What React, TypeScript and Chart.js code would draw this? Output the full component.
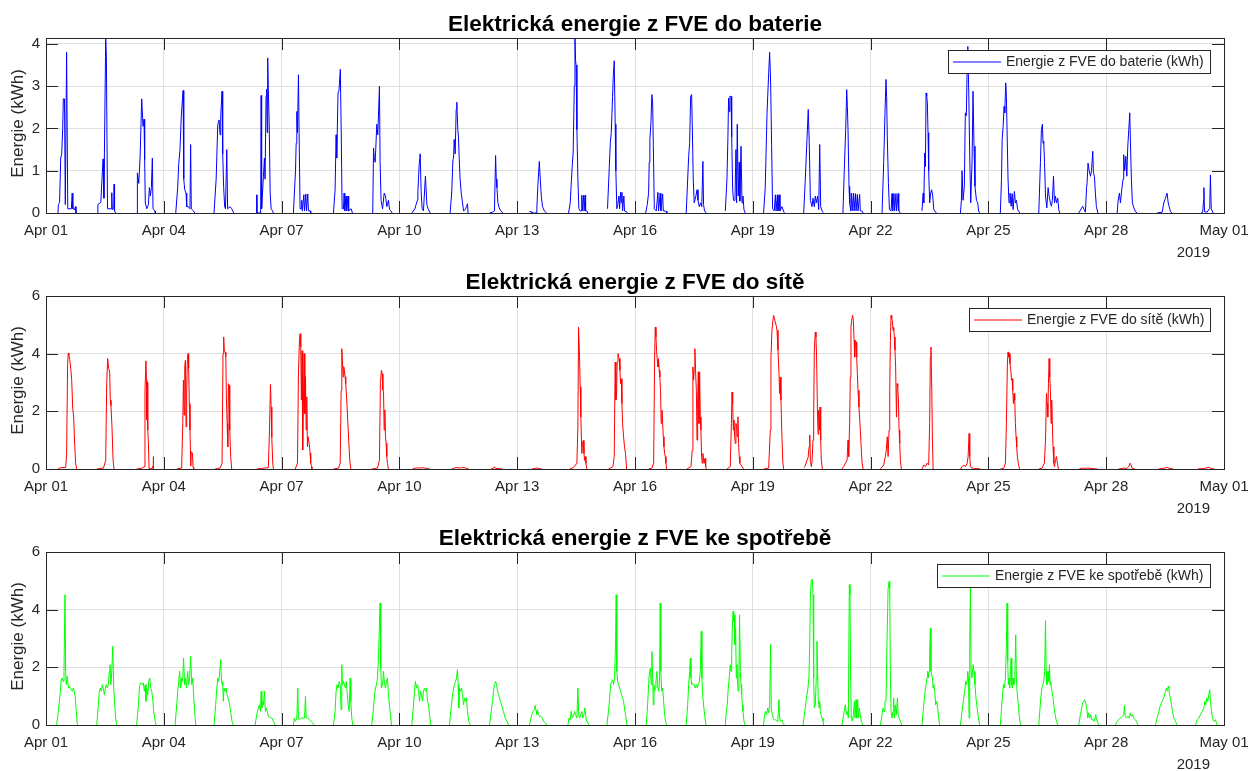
import React, { useEffect, useRef } from 'react';
import { Chart, registerables } from 'chart.js';

Chart.register(...registerables);

const FONT = "'Liberation Sans', Arial, Helvetica, sans-serif";

// x axis: days since Apr 01 2019
const tickDays = [0, 3, 6, 9, 12, 15, 18, 21, 24, 27, 30];
const dateLabels = ['Apr 01', 'Apr 04', 'Apr 07', 'Apr 10', 'Apr 13', 'Apr 16', 'Apr 19', 'Apr 22', 'Apr 25', 'Apr 28', 'May 01'];
const yearLabel = '2019';
const yAxisTitle = 'Energie (kWh)';

const batteryTicks = [0, 1, 2, 3, 4];
const sixTicks = [0, 2, 4, 6];

// Each row = one day (Apr 01 .. Apr 30), flat pairs [hour, kWh, hour, kWh, ...]
const batteryDays: number[][] = [
  [7.3,0, 7.6,0.2, 8.3,0.25, 9.0,1.3, 9.6,1.4, 10.2,2.0, 10.6,2.7, 11.3,2.7, 11.8,0.2, 12.6,3.8, 13.3,0.1, 15.5,0.1, 16.0,0.47, 16.4,0.1, 17.5,0.08, 18.0,0.15, 18.3,0],
  [7.5,0, 7.7,0.2, 9.5,0.25, 10.4,0.95, 10.9,1.28, 11.4,0.35, 12.5,4.14, 12.9,3.7, 13.6,0.1, 15.9,0.1, 16.2,0.48, 16.5,0.08, 17.4,0.1, 17.6,0.68, 17.9,0.05, 18.6,0],
  [7.8,0, 7.85,0.95, 8.7,0.7, 9.5,1.3, 10.5,2.7, 11.3,2.05, 11.9,2.22, 12.3,1.26, 12.7,0.24, 13.6,0.1, 14.6,0.2, 15.2,0.6, 15.8,0.4, 16.4,0.6, 17.0,1.3, 17.4,0.1, 18.7,0.05, 18.8,0],
  [7.3,0, 8.5,0.6, 9.1,1.15, 9.9,1.5, 10.7,2.3, 11.8,2.9, 12.2,0.8, 12.8,0.55, 13.6,0.47, 14.0,0.15, 15.0,0.15, 16.0,0.1, 16.4,1.62, 16.8,0.1, 18.1,0.05, 19.0,0],
  [6.7,0, 8.0,0.8, 9.0,2.1, 9.8,2.2, 10.4,1.85, 10.8,2.3, 11.6,2.88, 12.0,1.4, 12.6,0.6, 13.2,0.15, 13.7,0.1, 14.5,1.5, 15.0,0.1, 16.5,0.15, 17.5,0.1, 18.1,0.05, 18.8,0],
  [8.8,0.43, 8.9,0, 11.2,0, 11.5,2.78, 11.8,0.1, 12.9,0.87, 13.5,1.3, 13.9,0.8, 14.5,2.76, 14.9,2.93, 15.2,1.9, 15.5,3.67, 15.9,2.9, 16.4,2.17, 17.0,0.5, 17.6,0.1, 18.5,0.05, 19.0,0],
  [7.2,0, 8.5,1.0, 8.9,1.65, 9.3,2.4, 9.7,1.9, 10.3,3.27, 10.7,1.9, 11.3,0.1, 12.0,0.1, 12.3,0.3, 12.7,0.05, 13.6,0.43, 14.0,0.05, 14.8,0.45, 15.2,0.05, 16.0,0.45, 16.4,0.05, 17.5,0.05, 17.8,0],
  [7.7,0, 8.7,0.55, 9.3,1.85, 9.7,1.3, 10.5,2.84, 11.1,2.9, 11.9,3.4, 12.4,2.05, 13.0,0.1, 13.8,0.1, 14.2,0.47, 14.6,0.05, 15.4,0.4, 15.8,0.05, 16.6,0.4, 17.0,0.05, 18.5,0.1, 19.3,0],
  [7.7,0, 8.2,1.54, 8.6,1.3, 9.2,1.2, 10.2,2.1, 10.8,1.85, 11.8,3.0, 12.2,1.2, 12.8,0.3, 13.7,0.1, 14.7,0.47, 15.5,0.4, 16.3,0.15, 17.3,0.3, 18.0,0.08, 18.8,0.05, 19.5,0],
  [7.6,0, 9.5,0.1, 10.2,0.2, 11.0,0.3, 11.3,0.5, 12.1,1.15, 12.7,1.4, 13.3,0.5, 13.9,0.1, 14.7,0.05, 15.9,0.87, 16.8,0.2, 17.5,0.1, 18.8,0],
  [7.0,0, 8.0,0.5, 8.7,1.26, 9.1,1.3, 9.5,1.74, 10.1,1.4, 10.7,2.45, 11.1,2.62, 11.7,1.97, 12.1,1.8, 12.5,1.35, 13.1,0.8, 13.8,0.47, 14.6,0.24, 15.2,0.05, 16.2,0.08, 17.0,0.15, 17.6,0.22, 18.0,0],
  [7.1,0, 9.0,0.02, 10.1,0.05, 10.8,1.36, 11.2,0.8, 11.6,0.6, 12.2,0.25, 13.0,0.12, 14.0,0.05, 15.2,0],
  [7.5,0.03, 8.5,0.03, 9.0,0, 11.5,0, 12.0,0.1, 12.6,0.63, 13.5,1.22, 14.1,0.8, 14.7,0.4, 15.5,0.15, 16.7,0.04, 18.0,0],
  [7.4,0, 8.4,0.24, 9.6,1.1, 10.2,1.42, 10.9,3.0, 11.3,4.14, 11.7,3.6, 12.0,3.5, 12.5,1.97, 13.1,0.8, 13.7,0.1, 14.5,0.05, 15.2,0.05, 15.5,0.42, 15.8,0.05, 16.6,0.42, 16.9,0.05, 17.5,0.42, 17.8,0.05, 18.5,0.05, 19.2,0],
  [7.2,0.1, 8.3,1.1, 8.9,1.65, 9.5,1.9, 10.3,2.76, 10.7,3.23, 11.3,3.6, 11.9,2.1, 12.3,1.0, 12.9,0.1, 13.5,0.2, 14.2,0.4, 14.6,0.1, 15.2,0.49, 15.6,0.25, 16.0,0.49, 16.4,0.05, 17.2,0.4, 17.6,0.05, 19.0,0.02, 19.5,0],
  [6.5,0, 7.5,0.2, 8.3,0.47, 8.7,1.2, 9.1,1.74, 9.7,2.1, 10.3,2.8, 10.8,2.6, 11.2,1.6, 11.8,0.1, 13.0,0.05, 14.0,0.49, 14.4,0.05, 15.4,0.47, 15.8,0.05, 16.9,0.45, 17.3,0.05, 19.0,0.04, 19.5,0],
  [7.3,0, 8.2,0.8, 8.8,1.34, 9.4,1.65, 10.0,2.76, 10.6,2.8, 11.0,2.1, 11.6,0.8, 12.2,0.24, 13.2,0.4, 13.9,0.55, 14.5,0.3, 15.3,0.15, 16.1,0.24, 16.8,0.15, 17.5,1.22, 17.9,0.2, 18.5,0.05, 19.5,0],
  [7.2,0.05, 8.2,0.8, 8.8,1.8, 9.2,2.72, 9.6,2.4, 10.0,2.76, 10.7,2.76, 11.1,1.8, 11.7,0.55, 12.2,0.3, 13.1,0.3, 13.7,1.5, 14.1,0.24, 14.5,2.1, 15.1,0.4, 15.7,1.2, 16.1,0.28, 16.8,1.58, 17.4,0.24, 18.0,0.4, 18.6,0.08, 19.4,0],
  [6.6,0, 7.6,0.6, 8.7,2.37, 9.7,3.3, 10.3,3.8, 10.9,3.1, 11.5,1.6, 12.1,0.1, 13.1,0.05, 13.8,0.43, 14.2,0.05, 15.0,0.43, 15.4,0.05, 16.2,0.43, 16.6,0.05, 17.8,0.15, 19.0,0.02, 19.5,0],
  [7.1,0, 8.1,0.8, 9.1,1.74, 9.9,2.45, 10.5,1.65, 11.2,0.3, 12.2,0.15, 12.8,0.35, 13.6,0.15, 14.2,0.4, 14.8,0.24, 15.6,0.4, 16.3,0.08, 16.9,1.62, 17.5,0.15, 18.5,0.03, 19.3,0],
  [7.1,0, 7.9,1.0, 8.8,2.0, 9.4,2.92, 9.8,2.52, 10.2,1.97, 10.8,0.63, 11.2,0.24, 11.8,0.05, 12.2,0.47, 12.7,0.05, 13.5,0.47, 13.9,0.05, 14.7,0.46, 15.1,0.05, 15.9,0.44, 16.3,0.05, 17.3,0.44, 17.7,0.05, 19.0,0.04, 19.4,0],
  [7.0,0, 8.0,1.2, 8.8,2.37, 9.4,3.16, 9.8,2.76, 10.2,1.8, 10.9,0.7, 11.5,0.08, 12.5,0.05, 13.1,0.46, 13.5,0.05, 14.3,0.46, 14.7,0.05, 15.5,0.46, 15.9,0.05, 16.8,0.46, 17.2,0.05, 18.2,0],
  [7.4,0.05, 8.1,0.47, 8.5,0.24, 9.1,1.42, 9.5,1.1, 9.9,2.84, 10.3,2.76, 10.7,2.6, 11.1,1.9, 11.5,1.0, 12.1,0.24, 12.7,0.47, 13.3,0.55, 14.0,0.4, 14.6,0.08, 16.2,0],
  [6.9,0, 7.5,0.3, 7.9,1.0, 8.5,0.3, 9.3,0.63, 9.9,2.37, 10.5,2.3, 11.0,3.4, 11.4,3.94, 12.0,2.84, 12.6,1.34, 13.2,0.24, 14.0,1.2, 14.6,2.88, 15.2,1.58, 15.8,0.63, 16.7,0.3, 17.5,0.24, 18.0,0.05, 18.7,0],
  [7.3,0, 8.0,0.8, 8.4,1.74, 9.0,2.05, 9.6,2.52, 10.0,2.37, 10.6,3.08, 11.0,2.76, 11.4,1.97, 12.0,0.8, 12.6,0.24, 13.2,0.47, 13.9,0.16, 14.5,0.46, 15.1,0.08, 15.9,0.51, 16.5,0.24, 17.1,0.3, 17.9,0.08, 19.2,0],
  [6.8,0, 7.8,1.2, 8.4,1.97, 9.0,2.1, 9.4,1.65, 9.8,1.7, 10.3,1.2, 10.9,0.4, 11.7,0.12, 12.5,0.6, 13.1,0.4, 13.9,0.24, 14.5,0.16, 15.1,0.3, 15.8,0.87, 16.4,0.24, 17.0,0.4, 17.6,0.24, 18.4,0.35, 19.0,0.08, 19.6,0],
  [7.2,0, 8.0,0.05, 9.0,0.12, 9.6,0.16, 10.5,0.08, 11.3,0.02, 12.0,0.6, 12.3,0.7, 12.9,1.18, 13.6,1.0, 14.4,0.87, 15.0,1.0, 15.8,1.46, 16.2,0.95, 16.8,0.87, 17.4,0.47, 18.0,0.15, 18.9,0],
  [6.7,0, 7.3,0.3, 8.1,0.47, 8.7,0.24, 9.5,0.55, 10.3,0.8, 10.7,1.38, 11.3,1.0, 12.0,1.34, 12.6,0.87, 13.2,1.58, 13.8,1.97, 14.4,2.37, 14.8,1.7, 15.4,0.8, 16.0,0.24, 16.9,0.12, 17.9,0.03, 18.9,0],
  [7.1,0, 10.2,0.02, 11.2,0.24, 12.2,0.35, 13.2,0.47, 13.9,0.24, 14.5,0.15, 15.3,0.03, 16.3,0],
  [10.0,0, 11.0,0.02, 11.5,0.3, 11.7,0.6, 12.1,0.03, 13.7,0.02, 15.0,0.1, 15.3,0.2, 15.7,0.9, 16.2,0.1, 17.4,0],
];

const gridDays: number[][] = [
  [7.5,0.02, 9.6,0.05, 12.0,0.05, 12.6,0.5, 13.2,3.65, 13.6,4.02, 14.0,3.95, 14.5,3.8, 15.1,3.5, 15.7,3.1, 16.3,2.15, 16.9,1.8, 17.5,0.9, 18.1,0.2, 18.8,0],
  [7.0,0, 9.0,0.02, 11.1,0.03, 12.5,0.3, 13.1,2.96, 13.7,3.83, 14.3,3.48, 14.9,3.4, 15.3,2.39, 15.7,2.2, 16.3,1.5, 17.0,0.3, 17.6,0],
  [7.4,0, 10.5,0.02, 11.9,0.08, 12.5,2.73, 13.1,3.75, 13.4,3.08, 13.6,1.7, 13.8,3.0, 14.2,1.35, 14.6,0.89, 15.0,0.02, 16.6,0, 17.4,0.1, 17.6,0.43, 17.7,0],
  [7.9,0, 10.9,0.03, 11.6,1.58, 12.0,3.08, 12.4,1.87, 12.8,3.54, 13.2,3.77, 13.6,1.46, 14.0,2.73, 14.4,3.8, 14.8,4.0, 15.2,3.5, 15.6,2.27, 16.0,1.35, 16.5,0.1, 16.8,0.6, 17.5,0.55, 17.9,0.05, 18.3,0],
  [7.3,0, 10.4,0.03, 11.6,0.2, 12.2,4.0, 12.6,4.58, 13.0,4.1, 13.5,4.05, 13.9,3.9, 14.3,2.39, 14.7,1.58, 15.1,0.77, 15.5,2.96, 15.9,2.9, 16.3,1.35, 16.9,0.43, 17.5,0],
  [8.8,0, 11.9,0.02, 15.9,0.05, 16.6,1.35, 17.2,2.93, 17.6,2.15, 18.0,1.1, 18.6,0.2, 19.0,0],
  [8.3,0, 9.7,0.2, 10.3,3.3, 10.9,4.46, 11.3,4.69, 11.7,4.23, 12.1,2.39, 12.5,4.1, 12.9,0.66, 13.4,2.6, 13.8,4.0, 14.2,1.92, 14.6,3.2, 15.0,1.35, 15.4,2.5, 15.8,0.77, 16.2,1.12, 16.6,1.12, 17.0,0.83, 17.4,0.55, 17.8,0.2, 18.4,0.08, 18.5,0],
  [7.7,0, 10.8,0.03, 11.8,0.2, 12.4,2.73, 12.8,4.17, 13.2,3.71, 13.6,3.19, 14.0,3.55, 14.4,3.4, 14.8,3.2, 15.2,2.96, 15.8,2.4, 16.5,1.58, 17.1,0.89, 17.7,0.3, 18.3,0],
  [7.1,0, 10.6,0.03, 11.8,0.3, 12.4,2.96, 13.0,3.42, 13.5,3.3, 13.9,2.73, 14.3,2.7, 14.7,1.35, 15.1,2.05, 15.5,1.12, 15.9,0.89, 16.3,0.43, 16.7,0.2, 17.3,0],
  [8.0,0, 9.5,0.03, 11.0,0.04, 12.5,0.03, 14.0,0.05, 15.5,0.03, 17.0,0.02, 18.5,0],
  [8.0,0, 9.5,0.03, 11.0,0.05, 12.5,0.04, 14.0,0.04, 15.5,0.05, 17.0,0.02, 18.5,0],
  [8.0,0, 9.5,0.02, 10.1,0.08, 10.8,0.02, 13.0,0.01, 15.0,0],
  [9.0,0, 10.5,0.02, 12.0,0.03, 13.5,0.02, 15.0,0],
  [8.0,0, 10.4,0.05, 12.5,0.2, 13.1,1.5, 13.5,4.92, 14.1,3.88, 14.5,2.85, 14.9,1.8, 15.5,0.54, 15.9,0.89, 16.4,0.99, 16.8,0.54, 17.2,0.3, 17.6,0.43, 18.0,0.2, 18.6,0],
  [7.8,0, 10.5,0.08, 11.3,0.43, 11.9,3.71, 12.3,2.39, 12.7,2.5, 13.1,3.71, 13.6,4.0, 14.0,3.88, 14.4,3.83, 14.8,3.42, 15.2,2.96, 15.6,3.13, 16.0,2.27, 16.4,1.58, 17.0,1.12, 17.6,0.77, 18.2,0.54, 18.9,0],
  [8.3,0, 10.3,0.03, 11.4,0.2, 12.0,3.88, 12.4,4.92, 12.8,4.58, 13.2,4.12, 13.6,3.77, 14.0,3.54, 14.4,3.83, 14.8,3.42, 15.2,3.19, 15.6,2.73, 16.0,1.58, 16.5,2.04, 16.9,1.58, 17.3,1.12, 17.7,0.77, 18.1,0.54, 18.5,0.43, 18.9,0.2, 19.3,0],
  [7.7,0, 10.2,0.08, 11.0,0.66, 11.4,3.54, 11.8,3.08, 12.2,3.42, 12.6,4.17, 13.0,3.42, 13.5,2.73, 13.9,1.0, 14.3,2.39, 14.7,3.37, 15.1,1.58, 15.5,3.37, 15.9,1.8, 16.3,1.35, 16.7,0.43, 17.1,0.2, 17.5,0.54, 17.9,0.3, 18.3,0.2, 18.8,0.37, 19.2,0.08, 19.6,0],
  [8.2,0, 10.2,0.08, 10.9,1.58, 11.3,2.67, 11.7,2.27, 12.1,1.35, 12.5,1.7, 12.9,1.12, 13.3,0.89, 13.7,1.58, 14.1,1.46, 14.5,1.12, 14.9,1.81, 15.3,0.89, 15.7,0.43, 16.1,0.2, 16.8,0.14, 17.4,0.08, 18.4,0],
  [6.6,0, 9.7,0.03, 10.7,1.35, 11.1,3.88, 11.7,4.81, 12.3,5.15, 12.7,5.33, 13.1,5.25, 13.7,5.1, 14.4,4.95, 14.8,4.81, 15.4,4.12, 16.0,3.31, 16.4,2.62, 16.8,3.19, 17.2,2.39, 17.8,1.12, 18.4,0.2, 18.9,0],
  [7.1,0.05, 8.0,0.1, 9.1,0.3, 9.8,0.4, 10.4,0.77, 10.8,1.18, 11.2,0.3, 11.8,0.08, 12.2,0.25, 12.8,1.0, 13.2,1.8, 13.6,4.12, 14.2,4.75, 14.6,4.58, 15.0,3.88, 15.5,2.04, 15.9,1.2, 16.3,2.04, 16.7,1.35, 17.1,2.15, 17.5,1.0, 17.9,0.3, 18.5,0],
  [6.5,0, 7.5,0.08, 8.6,0.2, 9.6,0.3, 10.2,1.0, 10.6,0.43, 11.2,1.58, 11.6,3.19, 12.0,4.92, 12.6,5.21, 13.0,5.33, 13.5,5.15, 13.9,4.46, 14.3,3.88, 14.7,4.46, 15.1,4.4, 15.5,3.88, 15.9,3.31, 16.3,2.73, 16.9,2.15, 17.5,1.58, 18.1,0.89, 18.8,0.2, 19.4,0],
  [6.0,0, 8.0,0.14, 9.0,0.43, 9.6,0.66, 10.2,1.12, 10.7,0.43, 11.3,1.35, 11.7,2.73, 12.1,4.46, 12.5,5.33, 12.9,5.21, 13.3,5.15, 13.7,4.81, 14.1,4.92, 14.5,4.58, 14.9,4.12, 15.3,3.54, 15.8,1.8, 16.2,2.96, 16.6,2.85, 17.0,2.39, 17.4,1.35, 17.8,0.89, 18.2,0.3, 18.8,0],
  [7.4,0, 8.5,0.14, 9.5,0.08, 10.5,0.2, 11.5,0.14, 12.1,1.58, 12.5,3.88, 12.9,4.23, 13.4,2.73, 13.8,1.0, 14.2,0],
  [6.9,0, 7.9,0.08, 8.9,0.14, 9.9,0.08, 11.0,0.2, 11.6,0.43, 12.2,1.23, 12.6,0.43, 13.0,0.08, 14.0,0.03, 15.0,0.02, 17.0,0.02, 19.1,0],
  [7.3,0, 9.4,0.03, 10.4,0.2, 11.0,1.58, 11.6,3.65, 12.0,4.06, 12.4,3.88, 12.8,4.0, 13.2,3.65, 13.7,3.42, 14.1,3.08, 14.5,3.13, 14.9,2.73, 15.3,2.27, 15.7,2.62, 16.1,2.39, 16.5,1.58, 16.9,1.12, 17.3,0.77, 17.7,0.43, 18.3,0.2, 19.0,0],
  [6.8,0, 8.8,0.03, 10.2,0.2, 10.9,1.0, 11.5,2.62, 11.9,2.27, 12.3,1.8, 12.7,2.96, 13.1,3.83, 13.5,3.19, 13.9,2.73, 14.3,1.58, 14.7,2.39, 15.1,1.58, 15.5,0.77, 16.0,0.2, 16.4,0.08, 17.0,0.3, 17.6,0.43, 18.2,0.2, 18.8,0],
  [7.5,0, 9.0,0.03, 10.5,0.02, 12.0,0.03, 13.5,0.03, 15.0,0.02, 17.0,0.01, 18.5,0],
  [7.5,0, 9.5,0.02, 11.0,0.03, 12.5,0.02, 13.8,0.08, 14.5,0.2, 15.1,0.15, 15.8,0.03, 17.5,0],
  [8.0,0, 10.0,0.02, 12.0,0.03, 13.3,0.06, 14.5,0.02, 17.0,0],
  [8.0,0, 10.0,0.01, 12.0,0.02, 14.8,0.06, 16.0,0.02, 18.0,0],
];

const consumptionDays: number[][] = [
  [6.5,0, 7.5,0.47, 8.6,1.05, 9.2,1.51, 9.8,1.63, 10.4,1.51, 11.0,1.86, 11.6,4.52, 12.0,1.86, 12.4,1.4, 13.0,1.69, 13.7,1.28, 14.3,1.34, 14.9,1.28, 15.5,1.22, 16.1,1.17, 16.7,1.28, 17.3,1.17, 17.9,0.94, 18.5,0.47, 19.2,0],
  [7.0,0, 8.0,0.7, 8.6,1.17, 9.2,1.28, 9.8,1.17, 10.4,1.4, 11.0,1.28, 11.7,1.05, 12.3,1.28, 12.9,1.4, 13.5,1.28, 14.1,1.4, 14.7,1.86, 15.1,2.09, 15.7,1.4, 16.2,1.86, 16.8,2.73, 17.4,1.28, 18.0,0.7, 18.6,0.24, 19.2,0],
  [7.4,0, 8.5,0.7, 9.1,1.28, 9.7,1.46, 10.3,1.46, 10.9,1.4, 11.5,1.46, 12.1,1.17, 12.7,1.4, 13.1,0.82, 13.5,1.28, 14.2,1.05, 14.8,1.51, 15.4,1.63, 16.0,1.28, 16.6,1.17, 17.2,0.94, 17.8,0.47, 18.7,0.13, 19.3,0],
  [6.9,0, 7.9,0.7, 8.5,1.17, 9.1,1.51, 9.7,1.86, 10.3,1.28, 10.9,1.63, 11.5,1.51, 12.1,2.32, 12.7,1.4, 13.3,1.63, 13.9,1.28, 14.6,1.86, 15.2,1.4, 15.8,1.63, 16.4,2.38, 17.1,1.4, 17.7,1.63, 18.3,0.94, 18.9,0.47, 19.5,0],
  [6.7,0, 7.7,0.7, 8.4,1.28, 9.0,1.63, 9.6,1.51, 10.2,1.86, 10.8,2.27, 11.2,1.63, 11.6,1.4, 12.0,1.51, 12.4,0.82, 12.8,1.28, 13.5,1.17, 14.1,1.28, 14.7,1.05, 15.3,0.94, 15.9,0.82, 16.5,0.59, 17.1,0.36, 17.7,0.13, 18.5,0],
  [7.8,0, 8.8,0.36, 9.8,0.59, 10.4,0.7, 11.1,0.47, 11.5,1.17, 11.9,0.59, 12.3,0.82, 12.9,0.7, 13.5,1.17, 14.1,0.47, 14.7,0.59, 15.3,0.47, 15.9,0.3, 17.0,0.27, 18.0,0.24, 19.0,0.13, 20.0,0],
  [7.2,0, 7.8,0.24, 8.5,0.13, 9.3,0.24, 9.9,1.28, 10.3,0.24, 10.9,0.18, 11.7,0.24, 12.3,0.24, 13.3,0.24, 14.0,0.24, 14.6,1.0, 15.0,0.24, 16.0,0.24, 17.0,0.18, 18.0,0.13, 19.1,0.07, 19.9,0],
  [7.7,0, 8.7,0.47, 9.3,1.17, 9.9,1.4, 10.5,1.28, 11.2,1.51, 11.8,1.4, 12.4,0.53, 12.8,2.09, 13.2,1.4, 13.8,1.51, 14.4,1.4, 15.0,1.28, 15.6,1.51, 16.0,1.17, 16.7,0.7, 17.3,0.47, 17.9,1.63, 18.3,0.82, 18.9,0.24, 19.5,0],
  [7.1,0, 8.2,0.59, 8.8,1.05, 9.4,1.28, 10.0,1.4, 10.6,1.63, 11.2,2.32, 11.8,3.47, 12.2,4.23, 12.6,1.97, 13.0,1.28, 13.7,1.4, 14.3,1.86, 14.9,1.4, 15.5,1.28, 16.1,1.51, 16.7,1.63, 17.3,1.05, 17.9,0.7, 18.5,0.36, 19.2,0],
  [7.6,0, 8.6,0.7, 9.2,1.17, 9.8,1.51, 10.4,1.28, 11.1,1.4, 11.7,1.17, 12.3,0.82, 12.9,1.17, 13.5,1.05, 14.1,0.82, 14.7,1.17, 15.3,1.28, 16.0,1.17, 16.6,1.28, 17.2,0.82, 17.8,0.7, 18.4,0.36, 19.2,0],
  [6.6,0, 7.6,0.59, 8.5,1.05, 9.1,1.28, 9.7,1.4, 10.3,1.51, 10.9,1.63, 11.5,1.92, 11.9,1.4, 12.3,0.59, 12.7,1.28, 13.3,1.17, 14.0,1.28, 14.6,1.05, 15.2,0.7, 15.8,0.94, 16.4,0.82, 17.0,0.94, 17.6,0.47, 18.4,0.13, 19.3,0],
  [7.1,0, 8.1,0.47, 8.9,0.82, 9.5,1.17, 10.1,1.4, 10.8,1.51, 11.4,1.4, 12.0,1.17, 12.6,1.05, 13.2,0.94, 13.8,0.82, 14.4,0.7, 15.0,0.59, 15.6,0.47, 16.7,0.24, 17.7,0.13, 18.7,0],
  [7.5,0, 8.4,0.24, 9.0,0.36, 9.6,0.47, 10.4,0.53, 11.0,0.68, 11.6,0.47, 12.0,0.36, 12.4,0.53, 13.0,0.36, 13.6,0.3, 14.5,0.3, 15.3,0.24, 16.1,0.13, 17.1,0.07, 18.1,0],
  [7.0,0, 7.6,0.24, 8.4,0.18, 9.0,0.47, 9.6,0.24, 10.4,0.3, 11.1,0.47, 11.7,0.36, 12.5,0.24, 13.1,1.28, 13.6,0.36, 14.1,0.24, 14.9,0.36, 15.5,0.47, 16.1,0.24, 16.8,0.36, 17.4,0.59, 17.8,0.36, 18.4,0.13, 19.0,0.13, 19.6,0],
  [6.8,0, 7.8,0.47, 8.5,0.94, 9.1,1.4, 9.7,1.51, 10.3,1.57, 10.9,1.4, 11.5,1.63, 12.1,2.79, 12.5,4.52, 12.9,1.86, 13.4,1.51, 14.0,1.4, 14.6,1.28, 15.2,1.17, 15.8,1.05, 16.4,0.94, 17.0,0.82, 17.6,0.59, 18.2,0.36, 19.1,0],
  [6.9,0, 7.7,0.7, 8.3,1.4, 8.9,1.86, 9.5,1.97, 9.9,1.4, 10.3,2.55, 10.8,1.63, 11.2,0.7, 11.6,1.4, 12.0,1.17, 12.4,1.28, 12.8,1.51, 13.4,1.86, 14.0,1.28, 14.6,1.17, 15.0,1.63, 15.4,4.23, 15.8,1.86, 16.3,1.17, 16.9,1.28, 17.5,0.82, 18.1,0.36, 18.7,0.13, 19.3,0],
  [7.3,0, 8.2,0.7, 8.8,1.4, 9.4,1.86, 9.8,2.32, 10.2,1.63, 10.6,1.4, 11.0,1.46, 11.6,1.4, 12.2,1.4, 12.8,1.28, 13.5,1.4, 14.1,1.28, 14.7,1.4, 15.3,1.51, 15.9,1.86, 16.5,3.25, 16.9,1.63, 17.5,0.94, 18.1,0.59, 18.8,0.24, 19.4,0],
  [7.2,0, 7.8,0.47, 8.4,0.7, 9.0,1.28, 9.6,1.63, 10.2,2.09, 10.7,1.86, 11.1,2.44, 11.5,3.36, 11.9,3.94, 12.3,3.59, 12.7,3.82, 13.1,2.79, 13.5,3.36, 13.9,1.63, 14.3,2.09, 14.7,1.4, 15.1,1.17, 15.5,1.51, 15.9,3.82, 16.4,1.86, 16.8,1.4, 17.2,1.05, 17.6,0.7, 18.0,0.47, 18.6,0.13, 19.2,0],
  [6.6,0, 7.2,0.36, 7.8,0.47, 8.5,0.36, 9.1,0.59, 9.7,0.42, 10.3,0.7, 10.9,2.79, 11.3,0.59, 11.9,0.36, 12.5,0.24, 13.1,0.18, 13.8,0.18, 14.8,0.13, 15.4,0.24, 16.0,0.88, 16.4,0.24, 17.0,0.13, 17.8,0.18, 18.4,0.07, 19.3,0],
  [6.7,0, 7.5,0.36, 8.3,0.7, 9.1,1.05, 9.7,1.28, 10.3,1.63, 10.8,2.79, 11.2,4.52, 11.8,5.04, 12.4,5.04, 12.8,4.52, 13.2,1.63, 13.6,0.59, 14.2,0.7, 14.8,1.63, 15.2,2.9, 15.6,1.86, 16.0,0.94, 16.5,0.59, 16.9,0.82, 17.3,0.47, 17.7,0.36, 18.3,0.24, 18.9,0.13, 19.3,0],
  [6.5,0, 7.5,0.36, 8.2,0.59, 8.6,0.7, 9.2,0.36, 9.8,0.47, 10.4,0.24, 11.0,4.87, 11.4,4.52, 11.8,1.63, 12.2,0.24, 12.8,0.13, 13.5,0.36, 14.1,0.82, 14.5,0.24, 15.1,0.88, 15.5,0.24, 16.1,0.88, 16.5,0.24, 17.1,0.59, 17.7,0.36, 18.3,0.13, 19.2,0],
  [6.0,0, 7.0,0.36, 7.6,0.59, 8.2,0.47, 8.8,0.82, 9.4,0.82, 10.0,2.79, 10.7,4.75, 11.3,4.98, 11.7,4.75, 12.1,1.63, 12.5,0.47, 13.1,0.24, 13.7,0.47, 14.1,0.94, 14.5,0.24, 15.1,0.7, 15.7,0.36, 16.4,0.94, 16.8,0.36, 17.4,0.24, 18.2,0.13, 19.0,0],
  [7.4,0, 8.1,0.47, 8.7,0.82, 9.3,1.17, 9.9,1.4, 10.5,1.63, 10.9,1.86, 11.3,1.63, 11.7,1.86, 12.1,2.44, 12.5,3.36, 12.9,1.86, 13.3,1.75, 13.8,1.63, 14.2,1.28, 14.6,1.4, 15.2,1.17, 15.8,0.7, 16.4,0.82, 17.0,0.59, 17.6,0.24, 18.2,0],
  [6.9,0, 7.9,0.47, 8.9,0.94, 9.5,1.17, 10.1,1.51, 10.8,1.4, 11.4,1.86, 11.8,1.63, 12.2,0.24, 12.6,2.79, 13.0,4.87, 13.4,1.86, 14.0,1.63, 14.6,2.09, 15.2,1.86, 15.8,1.4, 16.4,0.94, 17.1,0.59, 17.9,0.24, 18.7,0],
  [7.3,0, 7.9,0.47, 8.6,1.05, 9.2,1.4, 9.8,1.28, 10.4,1.63, 11.0,2.79, 11.4,4.23, 11.8,2.21, 12.2,1.4, 12.6,1.63, 13.0,1.28, 13.5,1.86, 13.9,2.32, 14.3,1.4, 14.7,1.28, 15.1,1.63, 15.5,1.4, 16.1,1.51, 16.7,3.13, 17.1,1.63, 17.5,1.17, 18.1,0.82, 18.8,0.36, 19.6,0],
  [6.8,0, 7.4,0.47, 8.0,0.94, 8.7,1.28, 9.3,1.4, 9.8,1.51, 10.4,1.86, 10.9,3.62, 11.3,1.86, 11.7,1.4, 12.1,1.51, 12.5,1.86, 12.9,1.51, 13.3,2.09, 13.7,1.4, 14.1,1.51, 14.5,1.28, 14.9,1.17, 15.5,0.94, 16.2,0.59, 16.8,0.36, 17.6,0.13, 18.4,0],
  [7.2,0, 8.2,0.36, 9.0,0.59, 9.6,0.76, 10.2,0.82, 10.8,0.88, 11.4,0.76, 12.1,0.59, 12.7,0.24, 13.3,0.42, 13.9,0.24, 14.6,0.36, 15.2,0.18, 16.0,0.18, 16.8,0.13, 17.6,0.36, 18.2,0.18, 18.9,0.07, 19.5,0],
  [5.7,0, 6.7,0.13, 7.7,0.18, 8.7,0.24, 9.7,0.3, 10.7,0.36, 11.2,0.68, 11.6,0.3, 12.4,0.24, 13.2,0.3, 14.0,0.24, 14.8,0.42, 15.4,0.3, 16.0,0.36, 16.9,0.24, 17.7,0.18, 18.5,0.13, 19.3,0],
  [6.1,0, 7.1,0.24, 8.2,0.47, 9.2,0.7, 10.2,0.82, 11.2,0.94, 12.2,1.17, 12.8,1.28, 13.5,1.17, 13.9,1.34, 14.3,1.28, 14.7,1.05, 15.3,0.94, 15.9,0.7, 16.5,0.47, 17.3,0.24, 18.3,0.13, 19.4,0],
  [6.6,0, 7.6,0.18, 8.6,0.24, 9.6,0.36, 10.6,0.47, 11.7,0.59, 12.3,0.82, 12.9,0.7, 13.5,0.94, 14.1,0.82, 14.7,1.05, 15.3,1.23, 15.7,0.82, 16.4,0.47, 17.0,0.24, 17.8,0.13, 18.8,0.18, 19.4,0.07, 19.8,0],
];

type PanelSpec = {
  title: string;
  legend: string;
  color: string;
  days: number[][];
  yMax: number;
  yTicks: number[];
  top: number;
  padTop: number;
  axisH: number;
};

const panels: PanelSpec[] = [
  { title: 'Elektrická energie z FVE do baterie', legend: 'Energie z FVE do baterie (kWh)', color: '#0000ff', days: batteryDays, yMax: 4.14, yTicks: batteryTicks, top: 0, padTop: 38, axisH: 44 },
  { title: 'Elektrická energie z FVE do sítě', legend: 'Energie z FVE do sítě (kWh)', color: '#ff0000', days: gridDays, yMax: 6, yTicks: sixTicks, top: 257, padTop: 39, axisH: 45 },
  { title: 'Elektrická energie z FVE ke spotřebě', legend: 'Energie z FVE ke spotřebě (kWh)', color: '#00ff00', days: consumptionDays, yMax: 6, yTicks: sixTicks, top: 514, padTop: 38, axisH: 46 },
];

function buildPoints(days: number[][]) {
  const pts: { x: number; y: number | null }[] = [];
  days.forEach((row, d) => {
    for (let i = 0; i < row.length; i += 2) pts.push({ x: d + row[i] / 24, y: row[i + 1] });
    pts.push({ x: d + 0.9, y: null });
  });
  return pts;
}

const matlabPlugin = {
  id: 'matlabAxes',
  afterDatasetsDraw(chart: any, _args: any, o: any) {
    const { ctx, chartArea } = chart;
    const L = Math.round(chartArea.left);
    const R = Math.round(chartArea.right);
    const T = Math.round(chartArea.top);
    const B = Math.round(chartArea.bottom);
    const xs = chart.scales.x;
    const ys = chart.scales.y;
    ctx.save();
    ctx.strokeStyle = '#262626';
    ctx.lineWidth = 1;
    ctx.beginPath();
    tickDays.forEach((v) => {
      const p = Math.round(xs.getPixelForValue(v)) + 0.5;
      ctx.moveTo(p, B); ctx.lineTo(p, B - 12);
      ctx.moveTo(p, T); ctx.lineTo(p, T + 12);
    });
    (o.yTicks as number[]).forEach((v) => {
      const p = Math.round(ys.getPixelForValue(v)) + 0.5;
      ctx.moveTo(L, p); ctx.lineTo(L + 12, p);
      ctx.moveTo(R, p); ctx.lineTo(R - 12, p);
    });
    ctx.stroke();
    ctx.strokeRect(L + 0.5, T + 0.5, R - L, B - T);

    // title
    ctx.fillStyle = '#000000';
    ctx.font = `bold 22.5px ${FONT}`;
    ctx.textAlign = 'center';
    ctx.textBaseline = 'alphabetic';
    ctx.fillText(o.title, (L + R) / 2, T - 7);

    // y title
    ctx.save();
    ctx.translate(18.5, (T + B) / 2 - 2);
    ctx.rotate(-Math.PI / 2);
    ctx.font = `17px ${FONT}`;
    ctx.fillStyle = '#262626';
    ctx.textAlign = 'center';
    ctx.textBaseline = 'middle';
    ctx.fillText(yAxisTitle, 0, 0);
    ctx.restore();

    // year label
    ctx.font = `15px ${FONT}`;
    ctx.fillStyle = '#262626';
    ctx.textAlign = 'right';
    ctx.textBaseline = 'middle';
    ctx.fillText(yearLabel, R - 14, B + 40);

    // legend
    ctx.font = `14px ${FONT}`;
    const tw = ctx.measureText(o.legend).width;
    const bw = Math.round(5 + 48 + 5 + tw + 6);
    const bh = 23;
    const bx = Math.round(R - 14 - bw);
    const by = T + 12;
    ctx.fillStyle = '#ffffff';
    ctx.fillRect(bx, by, bw, bh);
    ctx.strokeStyle = '#262626';
    ctx.strokeRect(bx + 0.5, by + 0.5, bw, bh);
    ctx.strokeStyle = o.color;
    ctx.beginPath();
    ctx.moveTo(bx + 5, by + 12);
    ctx.lineTo(bx + 53, by + 12);
    ctx.stroke();
    ctx.fillStyle = '#262626';
    ctx.textAlign = 'left';
    ctx.textBaseline = 'middle';
    ctx.fillText(o.legend, bx + 58, by + 12.5);
    ctx.restore();
  },
};

function Panel({ spec }: { spec: PanelSpec }) {
  const ref = useRef<HTMLCanvasElement>(null);
  useEffect(() => {
    if (!ref.current) return;
    const chart = new Chart(ref.current, {
      type: 'line',
      data: {
        datasets: [
          {
            data: buildPoints(spec.days) as any,
            borderColor: spec.color,
            backgroundColor: spec.color,
            borderWidth: 1,
            pointRadius: 0,
            tension: 0,
            spanGaps: false,
            fill: false,
          },
        ],
      },
      options: {
        animation: false,
        responsive: false,
        devicePixelRatio: 1,
        layout: { padding: { top: spec.padTop, right: 35, left: 0, bottom: 0 } },
        plugins: {
          legend: { display: false },
          tooltip: { enabled: false },
          title: { display: false },
          matlabAxes: { title: spec.title, legend: spec.legend, color: spec.color, yTicks: spec.yTicks },
        } as any,
        scales: {
          x: {
            type: 'linear',
            min: 0,
            max: 30,
            afterBuildTicks: (s: any) => { s.ticks = tickDays.map((v) => ({ value: v })); },
            afterFit: (s: any) => { s.height = spec.axisH; },
            ticks: {
              autoSkip: false,
              maxRotation: 0,
              minRotation: 0,
              padding: 9,
              color: '#262626',
              font: { family: FONT, size: 15 },
              callback: (_v: any, i: number) => dateLabels[i],
            },
            grid: { color: '#dfdfdf', drawTicks: false, lineWidth: 1 },
            border: { display: false },
          },
          y: {
            type: 'linear',
            min: 0,
            max: spec.yMax,
            afterBuildTicks: (s: any) => { s.ticks = spec.yTicks.map((v) => ({ value: v })); },
            afterFit: (s: any) => { s.width = 46; },
            ticks: {
              padding: 6,
              color: '#262626',
              font: { family: FONT, size: 15 },
              callback: (v: any) => String(v),
            },
            grid: { color: '#dfdfdf', drawTicks: false, lineWidth: 1 },
            border: { display: false },
          },
        },
      } as any,
      plugins: [matlabPlugin as any],
    });
    return () => chart.destroy();
  }, [spec]);
  return (
    <canvas
      ref={ref}
      width={1259}
      height={257}
      style={{ position: 'absolute', left: 0, top: spec.top, width: 1259, height: 257, display: 'block' }}
    />
  );
}

export default function App() {
  return (
    <div style={{ position: 'absolute', left: 0, top: 0, width: 1259, height: 771, background: '#ffffff', overflow: 'hidden' }}>
      {panels.map((p) => (
        <Panel key={p.title} spec={p} />
      ))}
    </div>
  );
}
